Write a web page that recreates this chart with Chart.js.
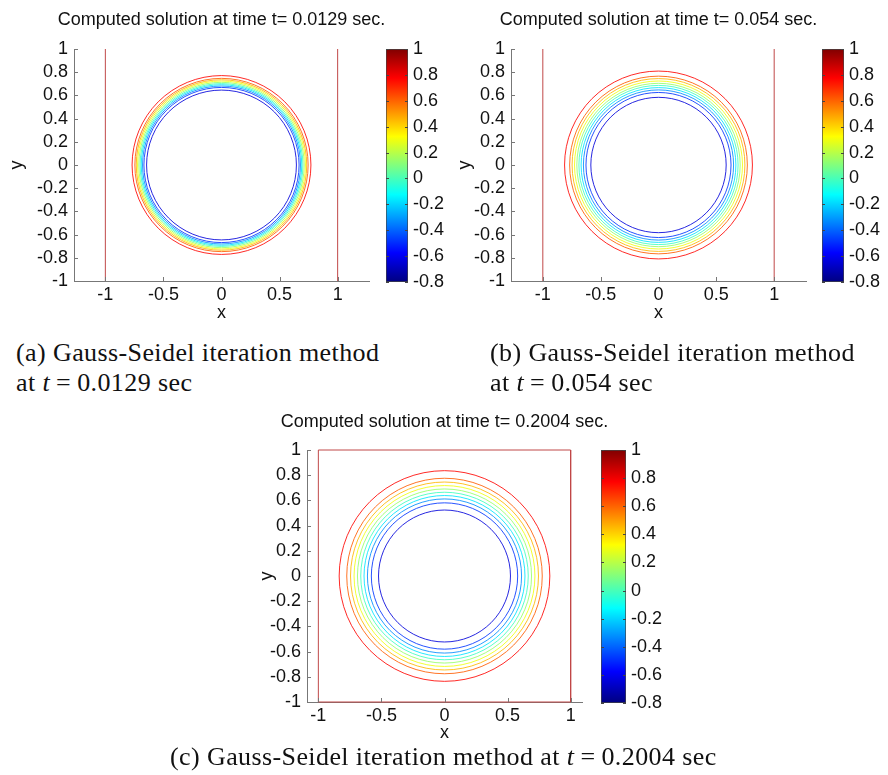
<!DOCTYPE html>
<html>
<head>
<meta charset="utf-8">
<script src="https://cdn.jsdelivr.net/npm/chart.js@4.4.1/dist/chart.umd.min.js"></script>
<style>
  html, body { margin: 0; padding: 0; background: #fff; }
  #fig { position: relative; width: 888px; height: 775px; overflow: hidden; }
  #fig canvas { position: absolute; }
  .cap { position: absolute; font-family: 'Liberation Serif', 'Times New Roman', serif; font-size: 26px; letter-spacing: 0.4px; line-height: 30px; color: #111; white-space: nowrap; }
  .cap .eq { margin: 0 6px; }
</style>
</head>
<body>
<div id="fig">
  <canvas id="plotA" width="443" height="330" style="left:0;top:0"></canvas>
  <canvas id="barA" width="70" height="330" style="left:380px;top:0"></canvas>
  <canvas id="plotB" width="437" height="330" style="left:440px;top:0"></canvas>
  <canvas id="barB" width="72" height="330" style="left:816px;top:0"></canvas>
  <canvas id="plotC" width="429" height="345" style="left:230px;top:400px"></canvas>
  <canvas id="barC" width="80" height="345" style="left:595px;top:400px"></canvas>
  <div class="cap" style="left:16px;top:338px">(a) Gauss-Seidel iteration method<br>at <i>t</i><span class="eq">=</span>0.0129 sec</div>
  <div class="cap" style="left:490px;top:338px">(b) Gauss-Seidel iteration method<br>at <i>t</i><span class="eq">=</span>0.054 sec</div>
  <div class="cap" style="left:170px;top:742px">(c) Gauss-Seidel iteration method at <i>t</i><span class="eq">=</span>0.2004 sec</div>
</div>
<script>
// contour levels (shared colour scale) and the radius of each level's circle per time step
const levels = [-0.638, -0.482, -0.326, -0.170, -0.014, 0.142, 0.298, 0.454, 0.610, 0.766];
const radiiA = [0.645, 0.668, 0.680, 0.691, 0.701, 0.712, 0.723, 0.734, 0.746, 0.770];
const radiiB = [0.585, 0.627, 0.649, 0.669, 0.688, 0.706, 0.726, 0.747, 0.768, 0.812];
const radiiC = [0.523, 0.580, 0.611, 0.638, 0.664, 0.690, 0.717, 0.745, 0.775, 0.835];
const centre = { x: 0, y: 0 };
const domainX = [-1, 1];
const domainY = [-1, 1];
const xTicks = [-1, -0.5, 0, 0.5, 1];
const yTicks = [-1, -0.8, -0.6, -0.4, -0.2, 0, 0.2, 0.4, 0.6, 0.8, 1];
const cbarRange = [-0.8, 1];
const cbarTicks = [-0.8, -0.6, -0.4, -0.2, 0, 0.2, 0.4, 0.6, 0.8, 1];
const jetStops = [0, 0.125, 0.375, 0.625, 0.875, 1];

const AXIS = '#777';
const EDGE = '#c04848';
const FS = 18;
Chart.defaults.font.family = "'Liberation Sans', Arial, sans-serif";
Chart.defaults.font.size = FS;
Chart.defaults.color = '#111';
Chart.defaults.animation = false;
Chart.defaults.events = [];

function jet(t, alpha = 1) {
  const c = v => Math.round(255 * Math.min(1, Math.max(0, v)));
  return `rgba(${c(1.5 - Math.abs(4 * t - 3))},${c(1.5 - Math.abs(4 * t - 2))},${c(1.5 - Math.abs(4 * t - 1))},${alpha})`;
}

// matlab style tick marks pointing into the axes
const inwardTicks = {
  id: 'inwardTicks',
  afterDraw(chart, args, opts) {
    const ctx = chart.ctx, a = chart.chartArea;
    ctx.save();
    ctx.strokeStyle = opts.color;
    ctx.lineWidth = 1;
    ctx.beginPath();
    Object.values(chart.scales).forEach(s => {
      if (!s.options.display || !s.options.ticks.display) return;
      s.ticks.forEach(t => {
        const p = Math.round(s.getPixelForValue(t.value)) + 0.5;
        if (s.isHorizontal()) {
          ctx.moveTo(p, a.bottom); ctx.lineTo(p, a.bottom - opts.len);
        } else if (s.position === 'left') {
          ctx.moveTo(a.left, p); ctx.lineTo(a.left + opts.len, p);
        } else {
          ctx.moveTo(a.left, p); ctx.lineTo(a.left + opts.len, p);
          ctx.moveTo(a.right, p); ctx.lineTo(a.right - opts.len, p);
        }
      });
    });
    ctx.stroke();
    ctx.restore();
  }
};

function makePlot(id, title, radii, boundary, L) {
  const datasets = [{
    data: radii.map(r => ({ x: centre.x, y: centre.y, r })),
    pointRadius: c => {
      const s = c.chart.scales.x;
      return Math.abs(s.getPixelForValue(c.raw.r) - s.getPixelForValue(centre.x));
    },
    pointBorderColor: c => jet((levels[c.dataIndex] - cbarRange[0]) / (cbarRange[1] - cbarRange[0]), 0.85),
    pointBackgroundColor: 'rgba(0,0,0,0)',
    pointBorderWidth: 1
  }];
  boundary.forEach(path => datasets.push({
    data: path, showLine: true, pointRadius: 0, borderColor: EDGE, borderWidth: 1, clip: 2
  }));

  return new Chart(document.getElementById(id), {
    type: 'scatter',
    data: { datasets },
    options: {
      responsive: false,
      layout: { padding: 0 },
      plugins: {
        legend: { display: false },
        tooltip: { enabled: false },
        title: {
          display: true, text: title, color: '#111',
          font: { size: FS, weight: 'normal' },
          padding: { top: L.titleTop, bottom: L.titleBottom }
        },
        inwardTicks: { len: 4, color: AXIS }
      },
      scales: {
        x: {
          type: 'linear', min: L.xMin, max: L.xMax,
          grid: { display: false, drawTicks: false },
          border: { color: AXIS },
          ticks: { padding: 3, autoSkip: false, maxRotation: 0, callback: v => String(v) },
          afterBuildTicks: s => { s.ticks = xTicks.map(v => ({ value: v })); },
          afterFit: s => { s.height = L.xAxisH; },
          title: { display: true, text: 'x', padding: { top: 0, bottom: L.xTitlePad } }
        },
        y: {
          type: 'linear', min: domainY[0], max: domainY[1],
          grid: { display: false, drawTicks: false },
          border: { color: AXIS },
          ticks: { padding: 6, autoSkip: false, callback: v => String(v) },
          afterBuildTicks: s => { s.ticks = yTicks.map(v => ({ value: v })); },
          afterFit: s => { s.width = L.yAxisW; },
          title: { display: true, text: 'y', padding: { top: L.yTitlePad, bottom: 0 } }
        },
        // empty right-hand gutter so the title centres over the axes box
        yGutter: {
          type: 'linear', position: 'right', min: domainY[0], max: domainY[1],
          grid: { display: false, drawTicks: false },
          border: { display: false },
          ticks: { display: false },
          afterFit: s => { s.width = L.yAxisW; }
        }
      }
    },
    plugins: [inwardTicks]
  });
}

function makeColorbar(id, L) {
  return new Chart(document.getElementById(id), {
    type: 'bar',
    data: {
      labels: [''],
      datasets: [{
        data: [cbarRange],
        backgroundColor: c => {
          const a = c.chart.chartArea;
          if (!a) return null;
          const g = c.chart.ctx.createLinearGradient(0, a.bottom, 0, a.top);
          jetStops.forEach(t => g.addColorStop(t, jet(t)));
          return g;
        },
        borderColor: '#444',
        borderWidth: 1,
        borderSkipped: false,
        barPercentage: 1,
        categoryPercentage: 1
      }]
    },
    options: {
      responsive: false,
      layout: { padding: { left: L.padLeft, right: 0, top: L.top, bottom: L.bottom } },
      plugins: {
        legend: { display: false },
        tooltip: { enabled: false },
        inwardTicks: { len: 3, color: '#444' }
      },
      scales: {
        x: { display: false },
        y: {
          position: 'right', min: cbarRange[0], max: cbarRange[1],
          grid: { display: false, drawTicks: false },
          border: { display: false },
          ticks: { padding: 5, autoSkip: false, callback: v => String(v) },
          afterBuildTicks: s => { s.ticks = cbarTicks.map(v => ({ value: v })); },
          afterFit: s => { s.width = L.axisW; }
        }
      }
    },
    plugins: [inwardTicks]
  });
}

const vEdges = domainX.map(x => domainY.map(y => ({ x, y })));
const boxEdge = [[
  { x: domainX[0], y: domainY[0] }, { x: domainX[0], y: domainY[1] },
  { x: domainX[1], y: domainY[1] }, { x: domainX[1], y: domainY[0] },
  { x: domainX[0], y: domainY[0] }
]];

makePlot('plotA', 'Computed solution at time t= 0.0129 sec.', radiiA, vEdges, {
  yAxisW: 74, xAxisH: 49, titleTop: 9.2, titleBottom: 18.2,
  xTitlePad: 6.2, yTitlePad: 6.2, xMin: -1.27, xMax: 1.27
});
makePlot('plotB', 'Computed solution at time t= 0.054 sec.', radiiB, vEdges, {
  yAxisW: 71, xAxisH: 49, titleTop: 9.2, titleBottom: 18.2,
  xTitlePad: 6.2, yTitlePad: 14.2, xMin: -1.275, xMax: 1.275
});
makePlot('plotC', 'Computed solution at time t= 0.2004 sec.', radiiC, boxEdge, {
  yAxisW: 77, xAxisH: 43, titleTop: 11.2, titleBottom: 17.2,
  xTitlePad: 1.2, yTitlePad: 25.9, xMin: -1.09, xMax: 1.09
});
makeColorbar('barA', { padLeft: 6, top: 49, bottom: 48, axisW: 42 });
makeColorbar('barB', { padLeft: 6, top: 49, bottom: 48, axisW: 44 });
makeColorbar('barC', { padLeft: 6, top: 50, bottom: 42, axisW: 49 });
</script>
</body>
</html>
